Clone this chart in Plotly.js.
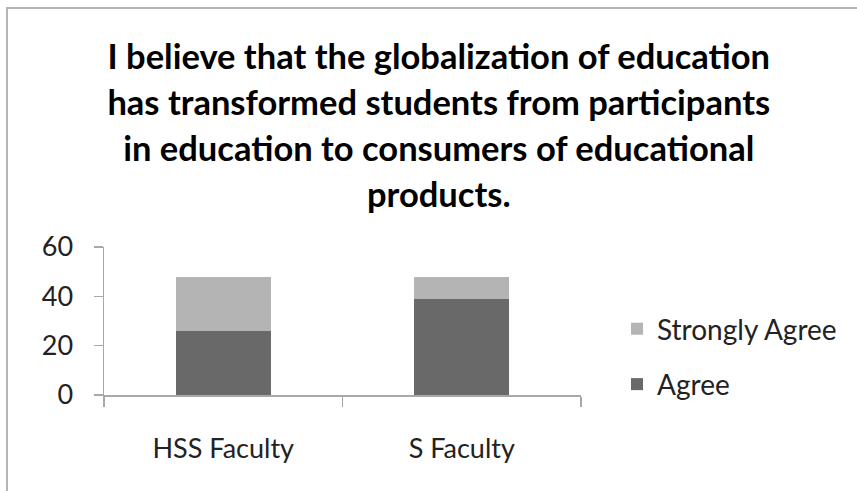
<!DOCTYPE html>
<html>
<head>
<meta charset="utf-8">
<script src="https://cdn.plot.ly/plotly-3.0.1.min.js"></script>
<style>
  html, body { margin:0; padding:0; background:#fff; }
  #chart { width:857px; height:491px; position:absolute; left:0; top:0; }
  #frame { position:absolute; left:6px; top:7px; width:900px; height:600px;
           border-top:2px solid #b4b4b4; border-left:2px solid #b4b4b4; pointer-events:none; }
</style>
</head>
<body>
<div id="chart"></div>
<div id="frame"></div>
<script>
const categories = ["HSS Faculty", "S Faculty"];
const agree = [26, 39];
const stronglyAgree = [22, 9];
const titleLines = [
  "I believe that the globalization of education",
  "has transformed students from participants",
  "in education to consumers of educational",
  "products."
];
const yTicks = [0, 20, 40, 60];

const FONT = "Lato, 'Open Sans', sans-serif";

const traces = [
  {
    type: "bar", name: "Agree", x: categories, y: agree,
    marker: { color: "#696969" }, width: 0.4, legendgroup: "a", legendrank: 2
  },
  {
    type: "bar", name: "Strongly Agree", x: categories, y: stronglyAgree,
    marker: { color: "#b4b4b4" }, width: 0.4, legendgroup: "s", legendrank: 1
  }
];

const titleText = titleLines.map(l => '<span style="font-size:34.5px">' + l + '</span>').join("<br>");

const layout = {
  width: 857, height: 491,
  margin: { l: 104, r: 276, t: 247, b: 96 },
  paper_bgcolor: "rgba(0,0,0,0)",
  plot_bgcolor: "rgba(0,0,0,0)",
  barmode: "stack",
  bargap: 0.6,
  font: { family: FONT, color: "#222" },
  title: {
    text: titleText,
    font: { family: FONT, size: 35.5, color: "#000", weight: "bold" },
    x: 0.512, xref: "container", xanchor: "center",
    y: 0.86, yref: "container", yanchor: "top"
  },
  xaxis: {
    type: "category",
    showline: true, linecolor: "#a8a8a8", linewidth: 1.5,
    ticks: "outside", tickson: "boundaries", ticklen: 10, tickcolor: "#a8a8a8", tickwidth: 1.5,
    tickfont: { family: FONT, size: 27, color: "#222" },
    ticklabelstandoff: 29,
    showgrid: false, zeroline: false, fixedrange: true
  },
  yaxis: {
    range: [0, 60], tickvals: yTicks, ticktext: yTicks.map(String),
    showline: true, linecolor: "#a8a8a8", linewidth: 1.5,
    ticks: "outside", ticklen: 9, tickcolor: "#a8a8a8", tickwidth: 1.5,
    tickfont: { family: FONT, size: 27, color: "#222" },
    ticklabelstandoff: 15,
    showgrid: false, zeroline: false, fixedrange: true
  },
  showlegend: true,
  legend: {
    x: 1.0755, xanchor: "left", y: 0.26, yanchor: "middle",
    traceorder: "grouped", tracegroupgap: 16,
    font: { family: FONT, size: 28, color: "#222" },
    bgcolor: "rgba(0,0,0,0)", borderwidth: 0
  }
};

Plotly.newPlot("chart", traces, layout, { displayModeBar: false, staticPlot: true });
</script>
</body>
</html>
